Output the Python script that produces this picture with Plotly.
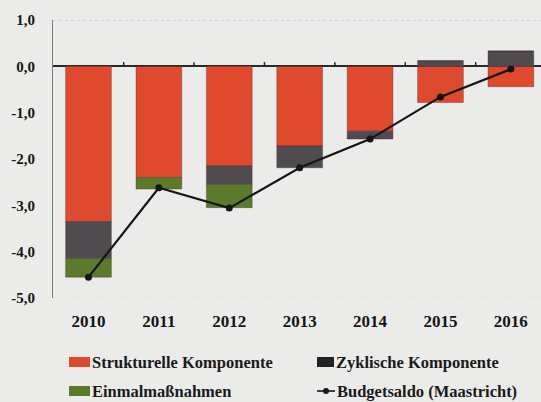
import plotly.graph_objects as go

# Budget balance decomposition, % of GDP
years = ["2010", "2011", "2012", "2013", "2014", "2015", "2016"]
structural = [-3.35, -2.40, -2.15, -1.72, -1.40, -0.78, -0.44]
cyclical = [-0.80, 0.00, -0.40, -0.47, -0.17, 0.12, 0.33]
one_off = [-0.40, -0.25, -0.50, 0.00, 0.00, 0.00, 0.00]
budget_balance = [-4.55, -2.62, -3.06, -2.19, -1.57, -0.66, -0.06]

y_ticks = [1, 0, -1, -2, -3, -4, -5]
y_tick_text = ["1,0", "0,0", "-1,0", "-2,0", "-3,0", "-4,0", "-5,0"]

names = ["Strukturelle Komponente", "Zyklische Komponente",
         "Einmalmaßnahmen", "Budgetsaldo (Maastricht)"]

RED = "#df4a2f"
GREY = "#504b4f"
GREEN = "#5c7a2c"
BG = "#ebebea"
FONT = "Liberation Serif"

W, H = 541, 402
ML, MR, MT, MB = 53, 0, 20, 104
PW, PH = W - ML - MR, H - MT - MB

xpos = list(range(len(years)))

fig = go.Figure()
for vals, name, col in [(structural, names[0], RED),
                        (cyclical, names[1], GREY),
                        (one_off, names[2], GREEN)]:
    fig.add_trace(go.Bar(
        x=xpos, y=vals, name=name, width=0.65,
        marker=dict(color=col, line=dict(color="rgba(60,40,40,0.35)", width=1)),
        showlegend=False,
    ))

fig.add_trace(go.Scatter(
    x=xpos, y=budget_balance, name=names[3], mode="lines+markers",
    line=dict(color="#151515", width=2.2),
    marker=dict(color="#151515", size=7, symbol="circle"),
    showlegend=False,
))


def px_x(p):
    return (p - ML) / PW


def px_y(p):
    return (H - MB - p) / PH


shapes = []
# small upward ticks on the zero line between categories
for i in range(len(years) - 1):
    shapes.append(dict(type="line", xref="x", yref="y", x0=i + 0.5, x1=i + 0.5,
                       y0=0, y1=0.09, line=dict(color="#222", width=1.5)))
# faint top and bottom frame lines
shapes.append(dict(type="line", xref="paper", yref="y", x0=0, x1=1, y0=1, y1=1,
                   line=dict(color="#bdbdbd", width=1, dash="dot")))
shapes.append(dict(type="line", xref="paper", yref="y", x0=0, x1=1, y0=-5, y1=-5,
                   line=dict(color="#d6d6d6", width=1, dash="dot")))

# legend: swatches and labels laid out in two columns
legend_rows = [362, 391]
legend_cols = [69, 317]
annotations = []
items = [
    (names[0], "bar", RED, legend_cols[0], legend_rows[0], 21),
    (names[1], "bar", "#222222", legend_cols[1], legend_rows[0], 17),
    (names[2], "bar", GREEN, legend_cols[0], legend_rows[1], 21),
    (names[3], "line", "#151515", legend_cols[1], legend_rows[1], 18),
]
for text, kind, col, x0, yc, w in items:
    if kind == "bar":
        shapes.append(dict(type="rect", xref="paper", yref="paper",
                           x0=px_x(x0), x1=px_x(x0 + w),
                           y0=px_y(yc + 5), y1=px_y(yc - 5),
                           fillcolor=col, line=dict(width=0)))
    else:
        shapes.append(dict(type="line", xref="paper", yref="paper",
                           x0=px_x(x0), x1=px_x(x0 + w), y0=px_y(yc), y1=px_y(yc),
                           line=dict(color=col, width=1.6)))
        shapes.append(dict(type="circle", xref="paper", yref="paper",
                           x0=px_x(x0 + w / 2 - 3), x1=px_x(x0 + w / 2 + 3),
                           y0=px_y(yc + 3), y1=px_y(yc - 3),
                           fillcolor=col, line=dict(width=0)))
    annotations.append(dict(xref="paper", yref="paper", x=px_x(x0 + w), y=px_y(yc),
                            xanchor="left", yanchor="middle", text=text, showarrow=False,
                            font=dict(family=FONT, size=16.5, color="#1a1a1a", weight="bold")))

fig.update_layout(
    width=W, height=H, autosize=False,
    margin=dict(l=ML, r=MR, t=MT, b=MB, pad=0),
    paper_bgcolor=BG, plot_bgcolor=BG,
    barmode="relative", bargap=0.35,
    shapes=shapes, annotations=annotations,
    showlegend=False,
    xaxis=dict(
        tickvals=xpos, ticktext=years, range=[-0.504, 6.428],
        showgrid=False, zeroline=False, showline=False, ticks="",
        ticklabelstandoff=11,
        tickfont=dict(family=FONT, size=17, color="#151515", weight="bold"),
    ),
    yaxis=dict(
        range=[-5, 1], tickvals=y_ticks, ticktext=y_tick_text,
        showgrid=False, zeroline=True, zerolinecolor="#2a2a2a", zerolinewidth=1.5,
        showline=True, linecolor="#7a7a7a", linewidth=1, ticks="",
        ticklabelstandoff=14,
        tickfont=dict(family=FONT, size=15, color="#151515", weight="bold"),
    ),
)

fig.write_html("out.html")
